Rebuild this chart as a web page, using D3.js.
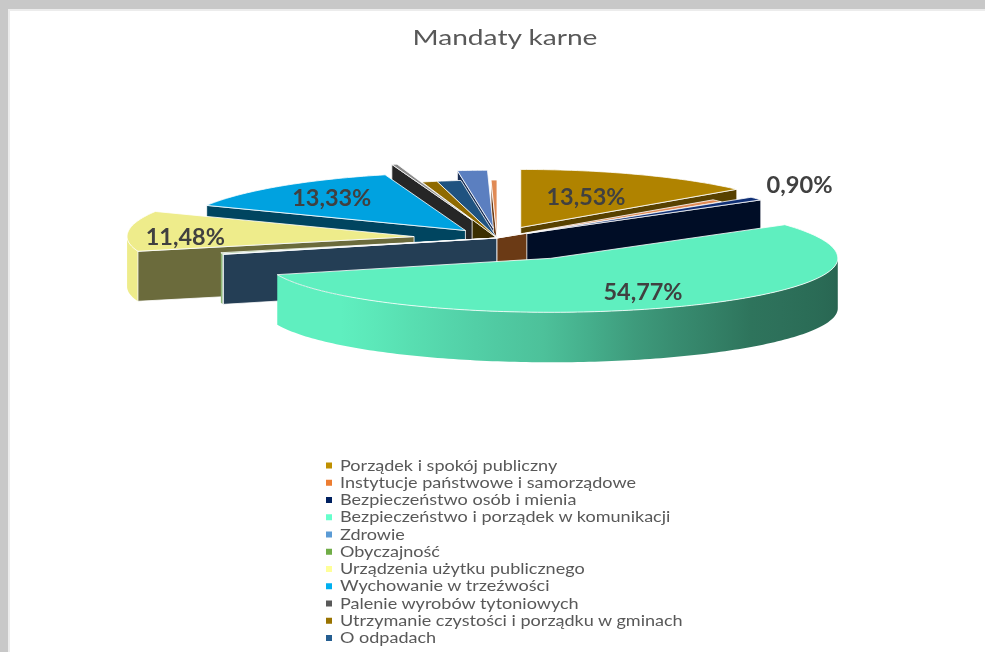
<!DOCTYPE html>
<html>
<head>
<meta charset="utf-8">
<script src="https://cdn.jsdelivr.net/npm/d3@7"></script>
<style>
  html, body { margin: 0; padding: 0; background: #fff; overflow: hidden; }
  text { font-family: Lato, "Open Sans", sans-serif; fill: #595959; filter: url(#soft); }
</style>
</head>
<body>
<div id="chart"></div>
<script>
// the source legend runs off the bottom of the picture, so the last two slices have no readable name
const categories = [
  "Porządek i spokój publiczny",
  "Instytucje państwowe i samorządowe",
  "Bezpieczeństwo osób i mienia",
  "Bezpieczeństwo i porządek w komunikacji",
  "Zdrowie",
  "Obyczajność",
  "Urządzenia użytku publicznego",
  "Wychowanie w trzeźwości",
  "Palenie wyrobów tytoniowych",
  "Utrzymanie czystości i porządku w gminach",
  "O odpadach",
  "",
  ""
];
const values = [13.53, 0.7, 0.90, 54.77, 0.1, 0.4, 11.48, 13.33, 0.3, 0.85, 1.35, 1.67, 0.33];
const shownLabels = ["13,53%", null, "0,90%", "54,77%", null, null, "11,48%", "13,33%", null, null, null, null, null];

const legendColors = ["#bf9000", "#ed7d31", "#002060", "#66ffcc", "#5b9bd5", "#70ad47", "#ffff99", "#00b0f0", "#595959", "#997300", "#255e91"];
const topColors = ["#b08300", "#e08a55", "#0f2f75", "#5fefbf", "#5b8fc8", "#8fb878", "#eeec8b", "#00a2e0", "#8a8a8a", "#8f6a00", "#1f5380", "#5b7fc0", "#e08a55"];
const cutColors = ["#584100", "#6b3a15", "#000d26", "#2f775f", "#243e55", "#3f5a2a", "#6b6b3c", "#004560", "#262626", "#3c2f00", "#102a40", "#1a2f55", "#6b3a15"];
const explode = [0.2, 0, 0.13, 0.42, 0, 0, 0.29, 0.17, 0.32, 0, 0, 0.17, 0];
const labelDist = [0.55, 0, 1.19, 0.72, 0, 0, 0.8, 0.72, 0, 0, 0, 0, 0];
const labelLift = [0, 0, 6, 0, 0, 0, -5, 0, 0, 0, 0, 0, 0];

const width = 985, height = 652;
const cx = 497, cy = 238, rx = 287, ryBack = 58, ryFront = 54, depth = 50;

const svg = d3.select("#chart").append("svg")
  .attr("width", width).attr("height", height);
const defs = svg.append("defs");
defs.append("filter").attr("id", "soft")
  .attr("x", "-5%").attr("y", "-20%").attr("width", "110%").attr("height", "140%")
  .append("feGaussianBlur").attr("stdDeviation", 0.35);

// frame of the slide behind the chart
svg.append("rect").attr("width", width).attr("height", height).attr("fill", "#c8c8c8");
svg.append("rect").attr("x", 8).attr("y", 9).attr("width", width).attr("height", height).attr("fill", "#ececec");
svg.append("rect").attr("x", 10).attr("y", 11).attr("width", width).attr("height", height).attr("fill", "#fff");

const pie = d3.pie().sort(null).value(d => d);
const arcs = pie(values).map((a, i) => ({...a, i, mid: (a.startAngle + a.endAngle) / 2}));

// flat ellipse projection of the pie plane, the near half is a little shallower
const project = (ox, oy, r, t) => {
  const c = Math.cos(t);
  return [ox + rx * r * Math.sin(t), oy - (c > 0 ? ryBack : ryFront) * r * c];
};
const line = d3.line();
const TAU = Math.PI * 2;

const shade = d3.scaleLinear()
  .domain([90, 135, 160, 180, 225, 270]).range([0.42, 0.48, 0.62, 0.8, 1, 1]).clamp(true);

function sampleAngles(a0, a1) {
  const n = Math.max(2, Math.ceil((a1 - a0) / 0.02));
  return d3.range(n + 1).map(k => a0 + (a1 - a0) * k / n);
}

function drawSlice(g, d) {
  const [ox, oy] = project(cx, cy, explode[d.i], d.mid);
  const outer = sampleAngles(d.startAngle, d.endAngle).map(t => project(ox, oy, 1, t));
  const p0 = project(ox, oy, 1, d.startAngle);
  const p1 = project(ox, oy, 1, d.endAngle);
  const edge = (p) => [[ox, oy], p, [p[0], p[1] + depth], [ox, oy + depth]];

  // outer wall only faces the viewer on the front half
  const w0 = Math.max(d.startAngle, Math.PI / 2), w1 = Math.min(d.endAngle, Math.PI * 1.5);
  if (w1 > w0) {
    const ts = sampleAngles(w0, w1);
    const pts = ts.map(t => project(ox, oy, 1, t));
    const id = "wall" + d.i;
    const xs = pts.map(p => p[0]);
    const x0 = d3.min(xs), x1 = d3.max(xs);
    const grad = defs.append("linearGradient").attr("id", id)
      .attr("gradientUnits", "userSpaceOnUse")
      .attr("x1", x0).attr("x2", x1).attr("y1", 0).attr("y2", 0);
    const base = d3.rgb(topColors[d.i]);
    const tone = s => d3.rgb(base.r * s, base.g * s, base.b * s).formatHex();
    d3.range(0, ts.length, Math.max(1, Math.floor(ts.length / 16))).concat(ts.length - 1)
      .map(k => ({x: pts[k][0], s: shade(ts[k] * 360 / TAU)}))
      .sort((a, b) => a.x - b.x)
      .forEach(st => grad.append("stop")
        .attr("offset", x1 > x0 ? (st.x - x0) / (x1 - x0) : 0)
        .attr("stop-color", tone(st.s)));
    const loop = pts.concat(pts.slice().reverse().map(p => [p[0], p[1] + depth]));
    g.append("path").attr("d", line(loop) + "Z").attr("fill", `url(#${id})`);
  }

  // cut faces
  if (Math.sin(d.startAngle) < -1e-6) {
    g.append("path").attr("d", line(edge(p0)) + "Z").attr("fill", cutColors[d.i])
      .attr("stroke", "#fff").attr("stroke-opacity", 0.8).attr("stroke-width", 1);
  }
  if (Math.sin(d.endAngle) > 1e-6) {
    g.append("path").attr("d", line(edge(p1)) + "Z").attr("fill", cutColors[d.i])
      .attr("stroke", "#fff").attr("stroke-opacity", 0.8).attr("stroke-width", 1);
  }

  // top face
  g.append("path").attr("d", line([[ox, oy], ...outer]) + "Z").attr("fill", topColors[d.i])
    .attr("stroke", "#fff").attr("stroke-opacity", 0.8).attr("stroke-width", 1)
    .attr("stroke-linejoin", "round");
}

// back to front: both sides of the top first, the big front slice last
const paintOrder = [12, 11, 10, 9, 8, 7, 6, 5, 4, 0, 1, 2, 3];
const pieG = svg.append("g").attr("class", "pieG");
paintOrder.forEach(i => drawSlice(pieG.append("g"), arcs[i]));

// stretched text, the source picture is wider than it was drawn
function fitText(sel, targetW, x, y, anchor) {
  const w = sel.node().getComputedTextLength();
  sel.attr("text-anchor", anchor)
    .attr("transform", `translate(${x},${y}) scale(${targetW / w},1)`);
}

arcs.forEach(d => {
  if (!shownLabels[d.i]) return;
  const [ox, oy] = project(cx, cy, explode[d.i], d.mid);
  const [lx, ly] = project(ox, oy, labelDist[d.i], d.mid);
  const t = svg.append("text").text(shownLabels[d.i])
    .attr("font-size", 23).attr("font-weight", 700)
    .style("fill", "#404040");
  fitText(t, shownLabels[d.i].length * 13.2, lx, ly + 7 - labelLift[d.i], "middle");
});

const title = svg.append("text").text("Mandaty karne").attr("font-size", 22);
fitText(title, 185, 505, 45, "middle");

// legend, its last rows are cut by the edge of the picture
const legendNames = categories.filter(c => c);
const rowY = d3.scalePoint().domain(legendNames).range([465.5, 638]);
const legendG = svg.append("g").attr("class", "legendG");
const longest = legendG.append("text").attr("font-size", 15).text(legendNames[9]);
const stretch = 343 / longest.node().getComputedTextLength();
longest.remove();
legendNames.forEach((name, i) => {
  legendG.append("rect")
    .attr("x", 326).attr("y", rowY(name) - 3).attr("width", 6).attr("height", 6)
    .attr("fill", legendColors[i]);
  legendG.append("text").text(name).attr("font-size", 15)
    .attr("transform", `translate(340,${rowY(name) + 5}) scale(${stretch},1)`);
});
</script>
</body>
</html>
